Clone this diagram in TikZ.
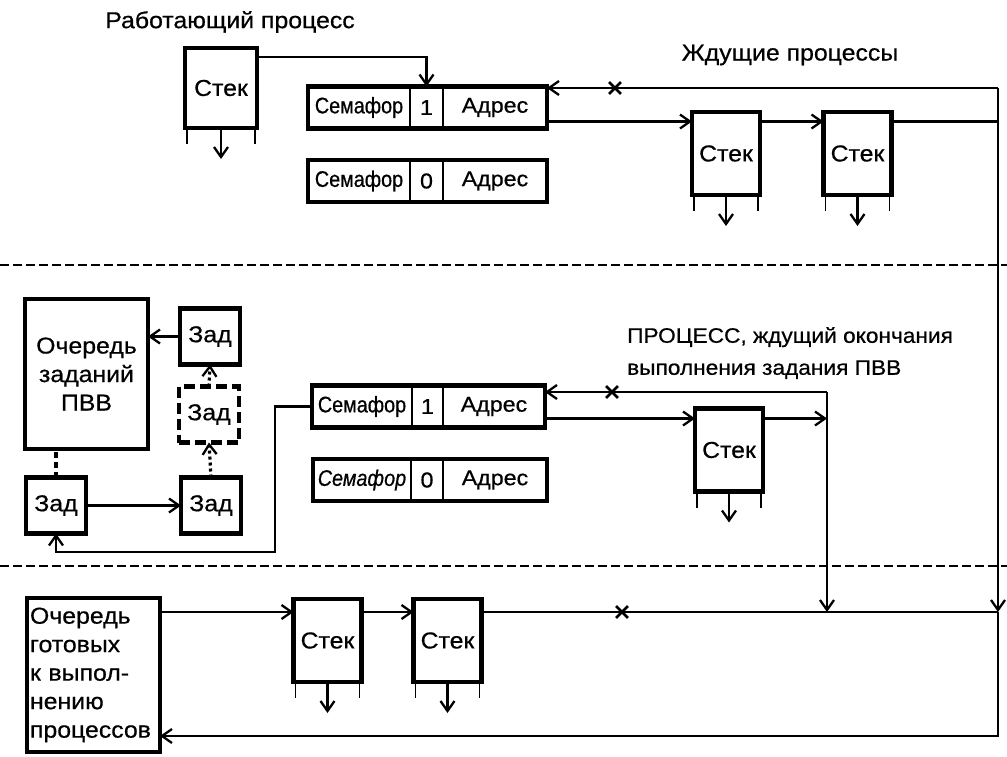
\documentclass[tikz,border=0pt]{standalone}
\usepackage{fontspec}
\setmainfont{Liberation Sans}[FakeStretch=1.08,FakeBold=0.6]
\newfontfamily\condfont{Liberation Sans}[FakeStretch=0.88,FakeBold=0.6]
\usetikzlibrary{arrows.meta,shapes.misc,fit}
\begin{document}
\begin{tikzpicture}[x=1pt,y=-1pt,
  arr/.style={line width=2.3pt,-{Straight Barb[length=10pt,width=14pt]}},
  ln/.style={line width=2.3pt},
  box/.style={draw,line width=4.4pt,inner sep=0pt,outer sep=0pt,font=\fontsize{23}{28.5}\selectfont},
  stk/.style={box,minimum width=68pt,minimum height=83pt},
  zad/.style={box,minimum width=60pt,minimum height=56pt},
  dzad/.style={zad,dash pattern=on 11pt off 5pt},
  cell/.style={draw,line width=2.6pt,inner sep=0pt,outer sep=0pt,minimum height=42pt,anchor=west,font=\fontsize{21.5}{24}\selectfont},
  semcell/.style={cell,font=\condfont\fontsize{22.5}{24}\selectfont},
  semframe/.style={draw,line width=4.4pt,inner sep=0pt,outer sep=0pt},
  leg/.style={line width=1.2pt},
  sep/.style={line width=2.3pt,dash pattern=on 9pt off 4pt},
  dotarr/.style={line width=3.2pt,dash pattern=on 3pt off 3pt,-{Straight Barb[length=10pt,width=14pt,line width=2.3pt]}},
  dashln/.style={line width=3.2pt,dash pattern=on 6pt off 4pt},
  crs/.style={draw,cross out,line width=2.8pt,minimum size=9pt,inner sep=0pt},
  lbl/.style={font=\fontsize{23}{32}\selectfont,inner sep=0pt},
  lbls/.style={font=\fontsize{21}{32}\selectfont,inner sep=0pt}
]
\useasboundingbox (0,0) rectangle (1007,756);

% separators
\draw[sep] (0,265) -- (1007,265);
\draw[sep] (0,566) -- (1007,566);

% labels
\node[lbl] (t1) at (230,22) {Работающий процесс};
\node[lbl] (t2) at (790,55) {Ждущие процессы};
\node[lbls,anchor=north west,align=left] (t3) at (627,327) {ПРОЦЕСС, ждущий окончания\\выполнения задания ПВВ};

% ---------- top section ----------
\node[box,minimum width=72pt,minimum height=80pt] (stR) at (221,88) {Стек};

\node[semcell,minimum width=102pt] (s1a) at (308,107.5) {Семафор};
\node[cell,minimum width=33pt] (s1b) at (s1a.east) {1};
\node[cell,minimum width=104pt] (s1c) at (s1b.east) {Адрес};
\node[semframe,fit=(s1a)(s1c)] (s1) {};

\node[semcell,minimum width=102pt] (s0a) at (308,181) {Семафор};
\node[cell,minimum width=33pt] (s0b) at (s0a.east) {0};
\node[cell,minimum width=104pt] (s0c) at (s0b.east) {Адрес};
\node[semframe,fit=(s0a)(s0c)] (s0) {};

\node[stk] (stW1) at (726,153.5) {Стек};
\node[stk] (stW2) at (857.5,153.5) {Стек};

% ---------- middle section ----------
\node[box,minimum width=123pt,minimum height=150pt,align=center] (ochZ) at (86.5,374) {Очередь\\заданий\\ПВВ};
\node[zad] (zad1) at (210,336.5) {Зад};
\node[dzad] (zad2) at (209,414.5) {Зад};
\node[zad] (zad3) at (211,505.5) {Зад};
\node[zad] (zad4) at (56,505.5) {Зад};

\node[semcell,minimum width=100pt] (m1a) at (312,406.5) {Семафор};
\node[cell,minimum width=31pt] (m1b) at (m1a.east) {1};
\node[cell,minimum width=102pt] (m1c) at (m1b.east) {Адрес};
\node[semframe,fit=(m1a)(m1c)] (m1) {};

\node[semcell,minimum width=98pt] (m0a) at (313,480) {\itshape Семафор};
\node[cell,minimum width=32pt] (m0b) at (m0a.east) {0};
\node[cell,minimum width=104pt] (m0c) at (m0b.east) {Адрес};
\node[semframe,fit=(m0a)(m0c)] (m0) {};

\node[stk] (stP) at (729,450) {Стек};

% ---------- bottom section ----------
\node[box,minimum width=133pt,minimum height=154pt,text width=127pt,align=left] (ochG) at (93.5,675) {Очередь\\готовых\\к выпол-\\нению\\процессов};
\node[stk] (stQ1) at (327.5,640.5) {Стек};
\node[stk] (stQ2) at (447.5,640.5) {Стек};

% ---------- coordinates ----------
\coordinate (R1) at (998,88);
\coordinate (Rb) at (998,612);
\coordinate (Rc) at (998,736);
\coordinate (M1) at (827,392);
\coordinate (c1) at ([yshift=-14pt]s1.east);
\coordinate (c2) at ([yshift=-12pt]m1.east);
\coordinate (c3) at ([yshift=-14pt]ochG.north east);
\coordinate (M2) at (M1 |- c3);
\coordinate (L) at (275,552);

% ---------- connectors ----------
% stack legs and down arrows
\foreach \s in {stR,stW1,stW2,stP,stQ1,stQ2}{
  \draw[arr] (\s.south) -- ++(0,31);
  \draw[leg] ([xshift=2pt]\s.south west) -- ++(0,16);
  \draw[leg] ([xshift=-2pt]\s.south east) -- ++(0,16);
}

\draw[arr] ([yshift=-9pt]stR.north east) -| (s1b.north);
\draw[arr] (R1) -- (R1 -| s1.east);
\draw[arr] (c1) -- (c1 -| stW1.west);
\draw[arr] (c1 -| stW1.east) -- (c1 -| stW2.west);
\draw[ln] (c1 -| stW2.east) -- (c1 -| R1);
\draw[arr] (R1) -- (Rb);
\draw[arr] (Rb) -- (Rc) -- (Rc -| ochG.east);

\draw[arr] (M1) -- (M1 -| m1.east);
\draw[arr] (c2) -- (c2 -| stP.west);
\draw[arr] (c2 -| stP.east) -- (c2 -| M1);
\draw[arr] (M1) -- (M2);
\draw[arr] (m1.west) -| (L) -| (zad4.south);

\draw[arr] (zad1.west) -- (zad1.west -| ochZ.east);
\draw[dotarr] (zad2.north) -- (zad1.south);
\draw[dotarr] (zad3.north) -- (zad2.south);
\draw[arr] (zad4.east) -- (zad3.west);
\draw[dashln] (zad4.north) -- (zad4.north |- ochZ.south);

\draw[arr] (c3) -- (c3 -| stQ1.west);
\draw[arr] (c3 -| stQ1.east) -- (c3 -| stQ2.west);
\draw[ln] (c3 -| stQ2.east) -- (Rb);

% cross marks on the lines
\node[crs] (x1) at (615,88) {};
\node[crs] (x2) at (612,392) {};
\node[crs] (x3) at (622,612) {};
\end{tikzpicture}
\end{document}
